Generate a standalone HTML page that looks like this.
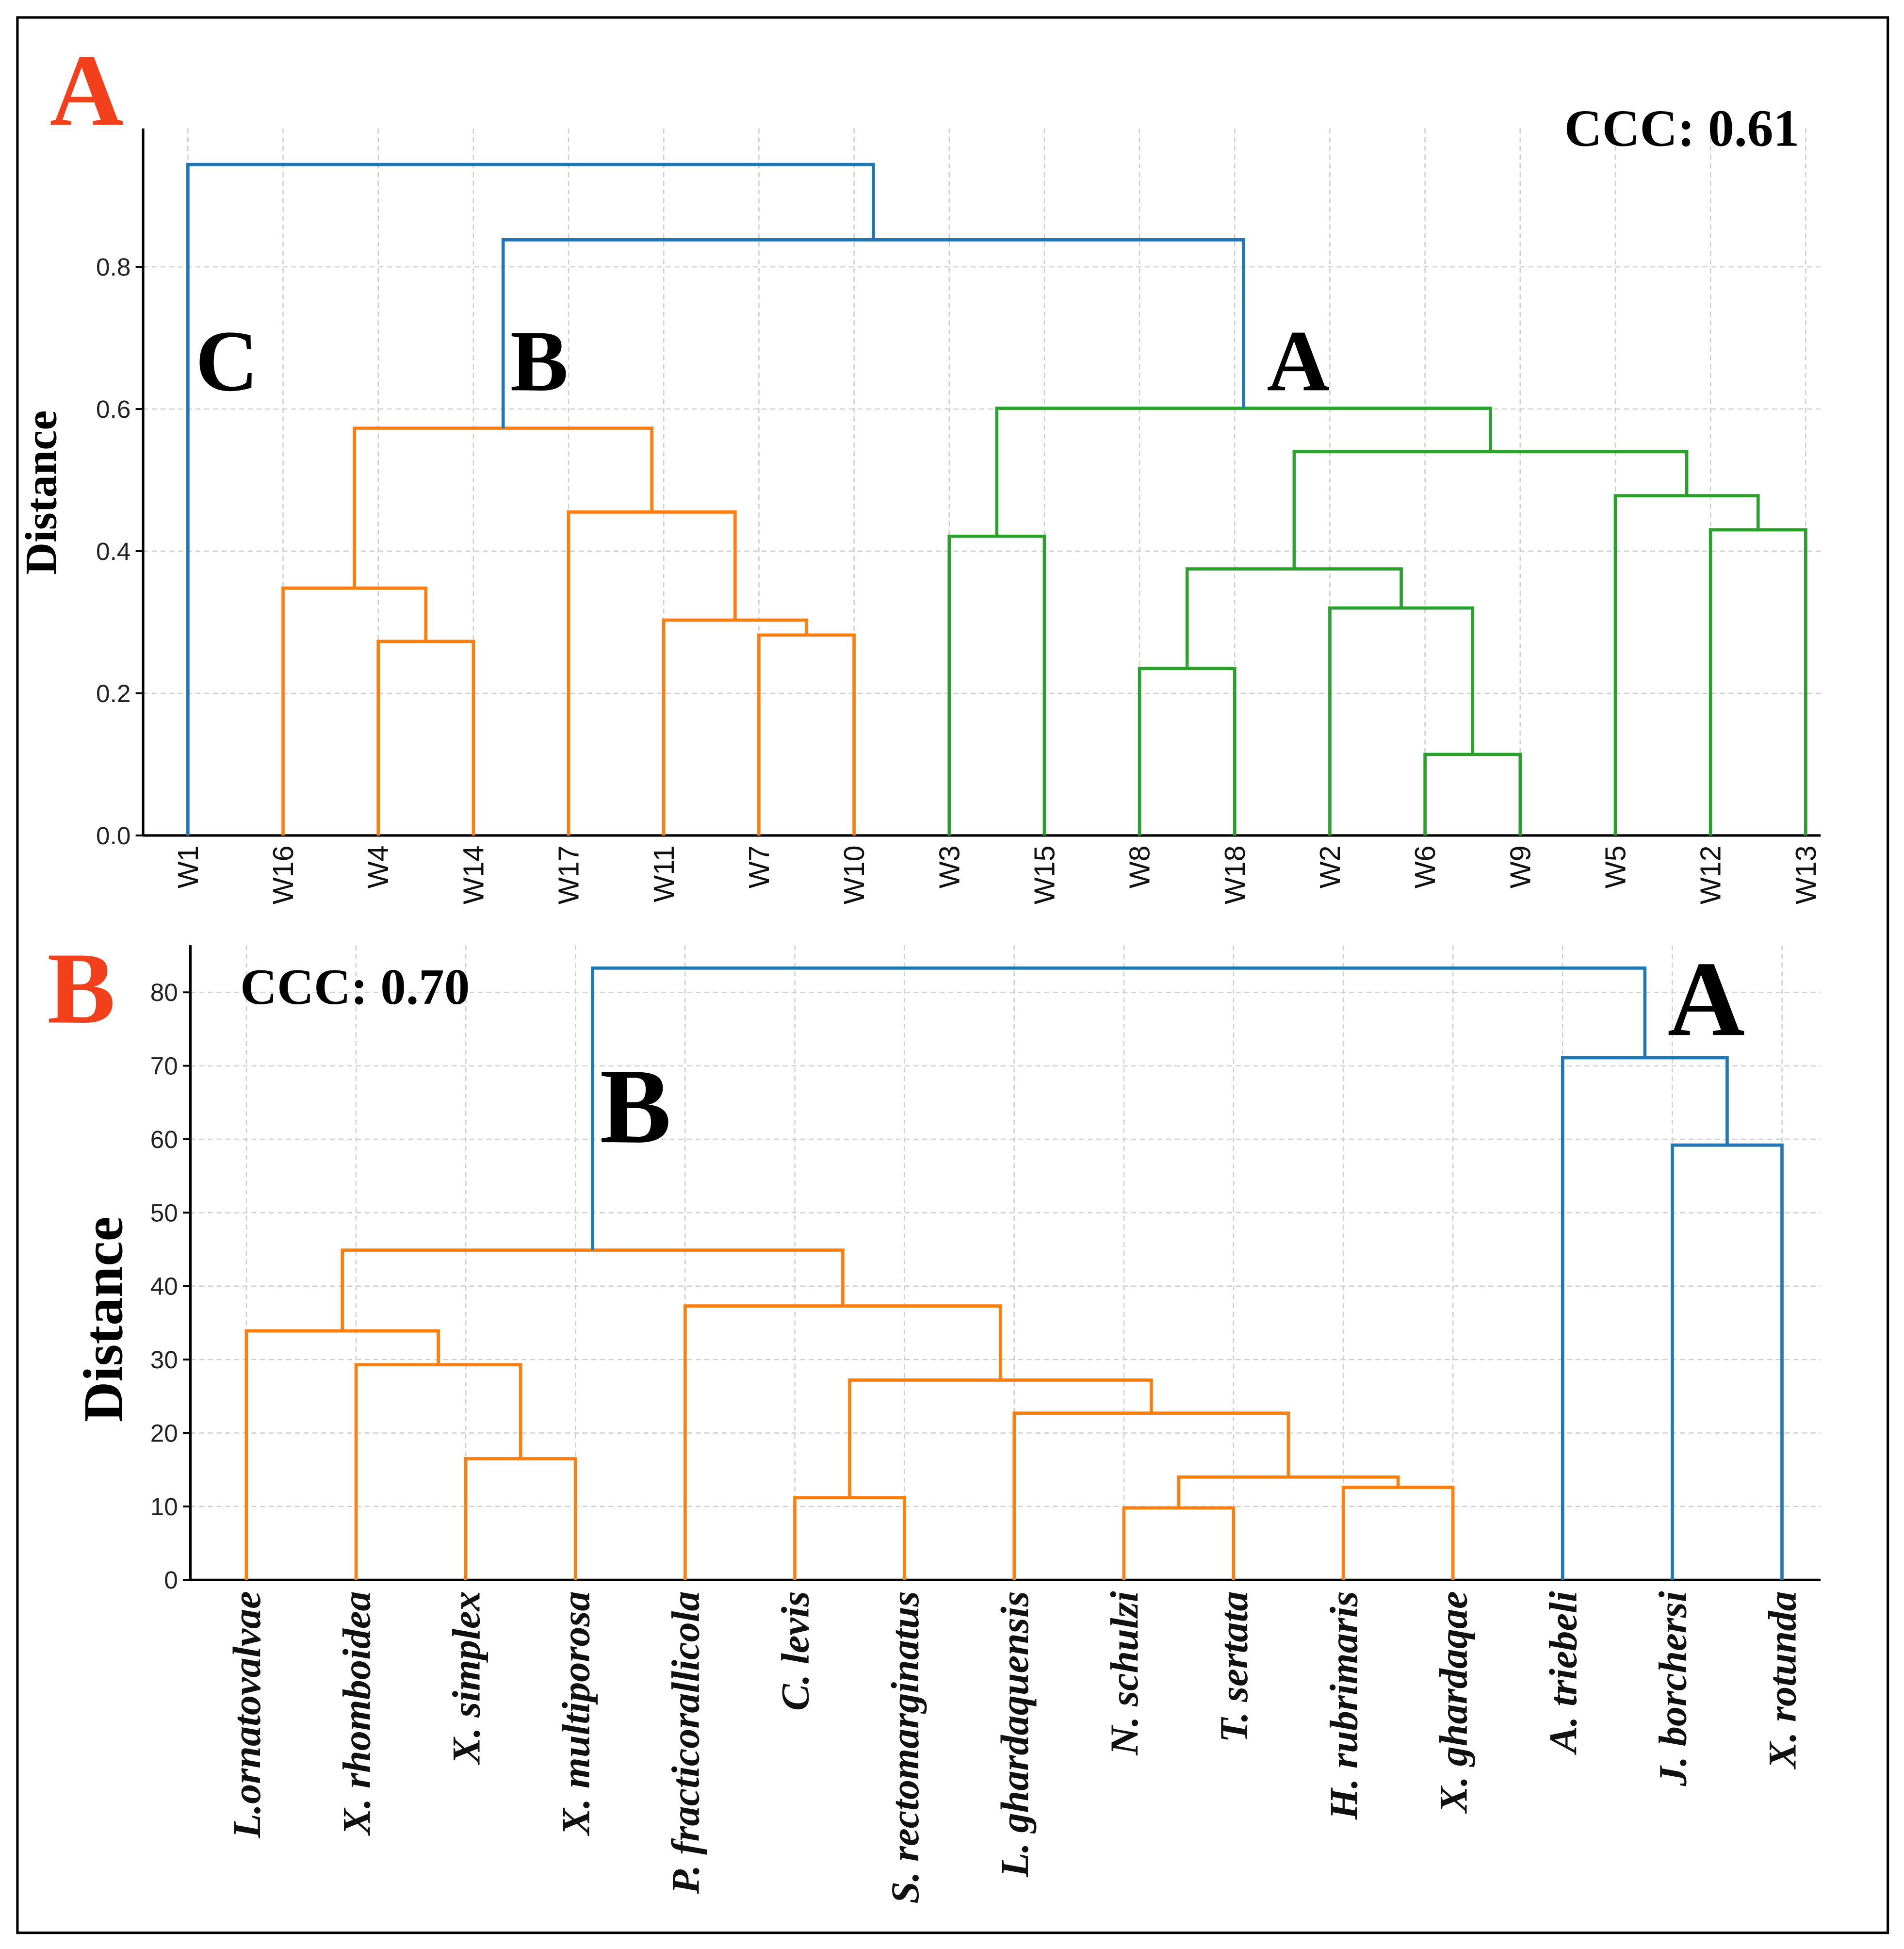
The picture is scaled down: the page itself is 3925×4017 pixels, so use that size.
<!DOCTYPE html>
<html><head><meta charset="utf-8"><style>
html,body{margin:0;padding:0;background:#fff}
svg{display:block}
</style></head><body>
<svg id="fig" width="3925" height="4017" viewBox="0 0 1530 1563" preserveAspectRatio="none" xmlns="http://www.w3.org/2000/svg">
<rect x="14" y="14" width="1503" height="1536" fill="#fff" stroke="#000" stroke-width="2"/>
<g id="gA"></g>
<g id="gB"></g>
<text x="40" y="100" font-family="Liberation Serif, serif" font-weight="bold" font-size="82" fill="#f2401c">A</text>
<text x="38" y="820" font-family="Liberation Serif, serif" font-weight="bold" font-size="82" fill="#f2401c">B</text>
<text x="1257" y="117" font-family="Liberation Serif, serif" font-weight="bold" font-size="42">CCC: 0.61</text>
<text x="193" y="805" font-family="Liberation Serif, serif" font-weight="bold" font-size="41">CCC: 0.70</text>
<text x="157" y="313" font-family="Liberation Serif, serif" font-weight="bold" font-size="70">C</text>
<text x="410" y="313" font-family="Liberation Serif, serif" font-weight="bold" font-size="70">B</text>
<text x="1018" y="313" font-family="Liberation Serif, serif" font-weight="bold" font-size="70">A</text>
<text x="1340" y="830" font-family="Liberation Serif, serif" font-weight="bold" font-size="86">A</text>
<text x="482" y="916" font-family="Liberation Serif, serif" font-weight="bold" font-size="86">B</text>
<text transform="translate(45,395) rotate(-90)" text-anchor="middle" font-family="Liberation Serif, serif" font-weight="bold" font-size="36">Distance</text>
<text transform="translate(98,1058) rotate(-90)" text-anchor="middle" font-family="Liberation Serif, serif" font-weight="bold" font-size="45">Distance</text>
</svg>
<script>
// Panel A data
const leavesA = ["W1","W16","W4","W14","W17","W11","W7","W10","W3","W15","W8","W18","W2","W6","W9","W5","W12","W13"];
const mergeLeftA  = [2, 1, 6, 5, 4, 19, 8, 10, 13, 12, 25, 16, 15, 28, 24, 23, 0];
const mergeRightA = [3, 18, 7, 20, 21, 22, 9, 11, 14, 26, 27, 17, 29, 30, 31, 32, 33];
const heightsA = [0.273, 0.348, 0.282, 0.303, 0.455, 0.573, 0.421, 0.235, 0.114, 0.320, 0.375, 0.430, 0.478, 0.540, 0.601, 0.838, 0.944];
const colorsA = ["o","o","o","o","o","o","g","g","g","g","g","g","g","g","g","b","b"];
const ticksA = [0.0, 0.2, 0.4, 0.6, 0.8];
const tickLabelsA = ["0.0","0.2","0.4","0.6","0.8"];

// Panel B data
const leavesB = ["L.ornatovalvae","X. rhomboidea","X. simplex","X. multiporosa","P. fracticorallicola","C. levis","S. rectomarginatus","L. ghardaquensis","N. schulzi","T. sertata","H. rubrimaris","X. ghardaqae","A. triebeli","J. borchersi","X. rotunda"];
const mergeLeftB  = [2, 1, 0, 5, 8, 10, 19, 7, 18, 4, 17, 13, 12, 25];
const mergeRightB = [3, 15, 16, 6, 9, 11, 20, 21, 22, 23, 24, 14, 26, 27];
const heightsB = [16.5, 29.3, 33.9, 11.2, 9.8, 12.6, 14.0, 22.7, 27.2, 37.3, 44.9, 59.2, 71.1, 83.3];
const colorsB = ["o","o","o","o","o","o","o","o","o","o","o","b","b","b"];
const ticksB = [0,10,20,30,40,50,60,70,80];
const tickLabelsB = ["0","10","20","30","40","50","60","70","80"];
</script>
<script>
const NS="http://www.w3.org/2000/svg";
const COL={o:"#ff7f0e",g:"#2ca02c",b:"#1f77b4"};
function mk(tag,attrs,parent){const e=document.createElementNS(NS,tag);for(const k in attrs)e.setAttribute(k,attrs[k]);parent.appendChild(e);return e;}
function draw(g,cfg){
  const xs=i=>cfg.x0+i*cfg.dx;
  const ys=v=>cfg.y0-(v-0)*cfg.ky;
  cfg.leaves.forEach((l,i)=>{const ln=mk("line",{x1:xs(i),x2:xs(i),y1:cfg.yTop,y2:cfg.y0,stroke:"#cfcfcf","stroke-width":1,"stroke-dasharray":"4,3"},g);
    
    });
  cfg.ticks.forEach((t,i)=>{const ln=mk("line",{x1:cfg.xAxis,x2:cfg.xEnd,y1:ys(t),y2:ys(t),stroke:"#cfcfcf","stroke-width":1,"stroke-dasharray":"4,3"},g);
    
    
    const tk=mk("line",{x1:cfg.xAxis-6,x2:cfg.xAxis,y1:ys(t),y2:ys(t),stroke:"#000","stroke-width":1.5},g);
    
    
    const tx=mk("text",{x:cfg.xAxis-10,y:ys(t)+7,"text-anchor":"end","font-family":"Liberation Sans, sans-serif","font-size":20,fill:"#222"},g);
    tx.textContent=cfg.tickLabels[i];
    
    });
  const ay=mk("line",{x1:cfg.xAxis,x2:cfg.xAxis,y1:cfg.yTop,y2:cfg.y0,stroke:"#000","stroke-width":2},g);
  
  
  const ax=mk("line",{x1:cfg.xAxis,x2:cfg.xEnd,y1:cfg.y0,y2:cfg.y0,stroke:"#000","stroke-width":2},g);
  
  
  const n=cfg.leaves.length;const nx=[],nh=[];
  cfg.leaves.forEach((l,i)=>{nx[i]=xs(i);nh[i]=0;});
  cfg.L.forEach((a,k)=>{const b=cfg.R[k];const h=cfg.H[k];
    const x=(nx[a]+nx[b])/2;nx[n+k]=x;nh[n+k]=h;
    const p=mk("path",{d:`M${nx[a]},${ys(nh[a])}V${ys(h)}H${nx[b]}V${ys(nh[b])}`,fill:"none",stroke:COL[cfg.C[k]],"stroke-width":cfg.sw},g);
    
    });
  cfg.leaves.forEach((l,i)=>{const t=mk("text",{transform:`translate(${xs(i)+cfg.lblDx},${cfg.lblY}) rotate(-90)`,"text-anchor":"end","font-family":cfg.font,"font-size":cfg.fs,"font-weight":cfg.fw,"font-style":cfg.fst,fill:"#111"},g);
    t.textContent=l;
    
    });
}
draw(document.getElementById("gA"),{leaves:leavesA,L:mergeLeftA,R:mergeRightA,H:heightsA,C:colorsA,ticks:ticksA,tickLabels:tickLabelsA,
  x0:151,dx:76.47,y0:670,ky:570,yTop:103,xAxis:115,xEnd:1463,sw:2.6,lblDx:8,lblY:678,font:"Liberation Sans, sans-serif",fs:23,fw:"normal",fst:"normal"});
draw(document.getElementById("gB"),{leaves:leavesB,L:mergeLeftB,R:mergeRightB,H:heightsB,C:colorsB,ticks:ticksB,tickLabels:tickLabelsB,
  x0:198,dx:88.14,y0:1267,ky:5.89,yTop:758,xAxis:153,xEnd:1463,sw:2.6,lblDx:11,lblY:1276,font:"Liberation Serif, serif",fs:32,fw:"bold",fst:"italic"});
</script>
</body></html>
